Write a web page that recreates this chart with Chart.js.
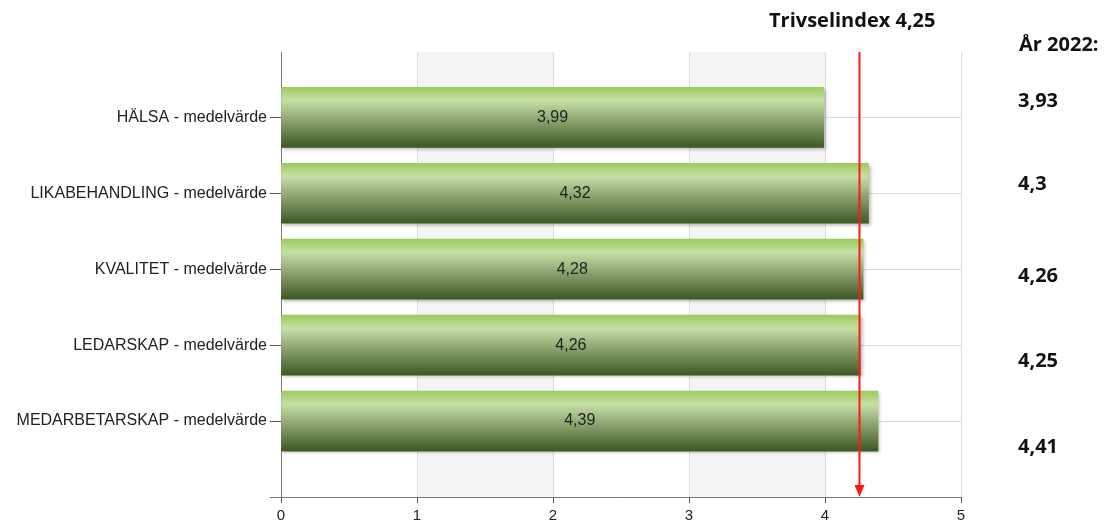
<!DOCTYPE html>
<html>
<head>
<meta charset="utf-8">
<script src="https://cdn.jsdelivr.net/npm/chart.js@4.4.1/dist/chart.umd.min.js"></script>
<style>
    html, body { margin: 0; padding: 0; background: #fff; }
    canvas { display: block; }
</style>
</head>
<body>
<canvas id="trivselChart" width="1107" height="521"></canvas>
<script>
const categories = [
    'HÄLSA - medelvärde',
    'LIKABEHANDLING - medelvärde',
    'KVALITET - medelvärde',
    'LEDARSKAP - medelvärde',
    'MEDARBETARSKAP - medelvärde'
];
const values = [3.99, 4.32, 4.28, 4.26, 4.39];
const previousYear = [3.93, 4.3, 4.26, 4.25, 4.41];
const xTicks = [0, 1, 2, 3, 4, 5];
const trivselindex = 4.25;
const titleText = 'Trivselindex 4,25';
const yearTitle = 'År 2022:';

const labelFont = '"Liberation Sans", Arial, sans-serif';

function fmt(v) {
    return String(v).replace('.', ',');
}

// grey bands between 1-2 and 3-4
const bandsPlugin = {
    id: 'bands',
    beforeDatasetsDraw(chart) {
        const { ctx, chartArea, scales } = chart;
        ctx.save();
        ctx.fillStyle = '#f4f4f4';
        [[1, 2], [3, 4]].forEach(([a, b]) => {
            const x1 = scales.x.getPixelForValue(a);
            const x2 = scales.x.getPixelForValue(b);
            ctx.fillRect(x1, chartArea.top, x2 - x1, chartArea.bottom - chartArea.top);
        });
        // gridlines again on top of the bands
        ctx.strokeStyle = '#dcdcdc';
        ctx.lineWidth = 1;
        xTicks.slice(1).forEach(t => {
            const x = Math.round(scales.x.getPixelForValue(t)) + 0.5;
            ctx.beginPath();
            ctx.moveTo(x, chartArea.top);
            ctx.lineTo(x, chartArea.bottom);
            ctx.stroke();
        });
        ctx.strokeStyle = '#777';
        ctx.beginPath();
        ctx.moveTo(chartArea.left - 11, chartArea.bottom + 0.5);
        ctx.lineTo(chartArea.left, chartArea.bottom + 0.5);
        ctx.stroke();
        ctx.restore();
    }
};

// soft shadow under the bars
const shadowPlugin = {
    id: 'barShadow',
    beforeDatasetDraw(chart) {
        const c = chart.ctx;
        c.save();
        c.shadowColor = 'rgba(0,0,0,0.25)';
        c.shadowBlur = 3;
        c.shadowOffsetX = 2;
        c.shadowOffsetY = 2;
    },
    afterDatasetDraw(chart) {
        chart.ctx.restore();
    }
};

// value labels, red index line and the texts on the right
const overlayPlugin = {
    id: 'overlay',
    afterDatasetsDraw(chart) {
        const { ctx, chartArea, scales } = chart;
        const meta = chart.getDatasetMeta(0);
        ctx.save();
        ctx.font = '16px ' + labelFont;
        ctx.fillStyle = '#222';
        ctx.textAlign = 'center';
        ctx.textBaseline = 'middle';
        meta.data.forEach((bar, i) => {
            const x = (bar.x + bar.base) / 2;
            ctx.fillText(fmt(values[i]), x, bar.y);
        });

        const xr = Math.round(scales.x.getPixelForValue(trivselindex)) + 0.5;
        ctx.strokeStyle = '#ff1a1a';
        ctx.fillStyle = '#ff1a1a';
        ctx.lineWidth = 2;
        ctx.beginPath();
        ctx.moveTo(xr, chartArea.top);
        ctx.lineTo(xr, chartArea.bottom - 8);
        ctx.stroke();
        ctx.beginPath();
        ctx.moveTo(xr - 5, chartArea.bottom - 12);
        ctx.lineTo(xr + 5, chartArea.bottom - 12);
        ctx.lineTo(xr, chartArea.bottom);
        ctx.closePath();
        ctx.fill();

        // right side texts
        ctx.font = 'bold 20px "Open Sans", sans-serif';
        ctx.fillStyle = '#111';
        ctx.textAlign = 'left';
        ctx.textBaseline = 'alphabetic';
        ctx.fillText(titleText, 769, 27);
        ctx.fillText(yearTitle, 1019, 51);
        const baselines = [107, 190, 282, 367, 453];
        previousYear.forEach((v, i) => ctx.fillText(fmt(v), 1018, baselines[i]));
        ctx.restore();
    }
};

function barGradient(context) {
    const chart = context.chart;
    if (!chart.chartArea || !chart.scales.y) return '#8fb060';
    const y = chart.scales.y.getPixelForValue(context.dataIndex);
    const g = chart.ctx.createLinearGradient(0, y - 30, 0, y + 30);
    g.addColorStop(0, '#9ccc5c');
    g.addColorStop(0.22, '#c6dfa6');
    g.addColorStop(0.55, '#8ea470');
    g.addColorStop(1, '#3d5823');
    return g;
}

const ctx = document.getElementById('trivselChart').getContext('2d');
const chart = new Chart(ctx, {
    type: 'bar',
    data: {
        datasets: [{
            data: values.map((v, i) => ({ x: v, y: i })),
            backgroundColor: barGradient,
            borderWidth: 0,
            barThickness: 60
        }]
    },
    plugins: [bandsPlugin, shadowPlugin, overlayPlugin],
    options: {
        indexAxis: 'y',
        responsive: false,
        animation: false,
        layout: { padding: { top: 52, right: 146, left: 0, bottom: 0 } },
        plugins: {
            legend: { display: false },
            tooltip: { enabled: false }
        },
        scales: {
            x: {
                type: 'linear',
                min: 0,
                max: 5,
                afterBuildTicks(scale) {
                    scale.ticks = xTicks.map(v => ({ value: v }));
                },
                afterFit(scale) { scale.height = 24; },
                grid: { color: '#dcdcdc', tickColor: '#555', tickLength: 6 },
                border: { color: '#777', width: 1 },
                ticks: {
                    color: '#222',
                    padding: 4,
                    font: { family: labelFont, size: 15 }
                }
            },
            y: {
                type: 'linear',
                reverse: true,
                offset: false,
                min: -0.86,
                max: 5,
                afterBuildTicks(scale) {
                    scale.ticks = categories.map((_, i) => ({ value: i }));
                },
                afterFit(scale) { scale.width = 281; },
                grid: { color: '#dcdcdc', tickColor: '#555', tickLength: 11, offset: false },
                border: { color: '#777', width: 1 },
                ticks: {
                    color: '#222',
                    padding: 3,
                    font: { family: labelFont, size: 16 },
                    callback: v => categories[v] || ''
                }
            }
        }
    }
});
</script>
</body>
</html>
